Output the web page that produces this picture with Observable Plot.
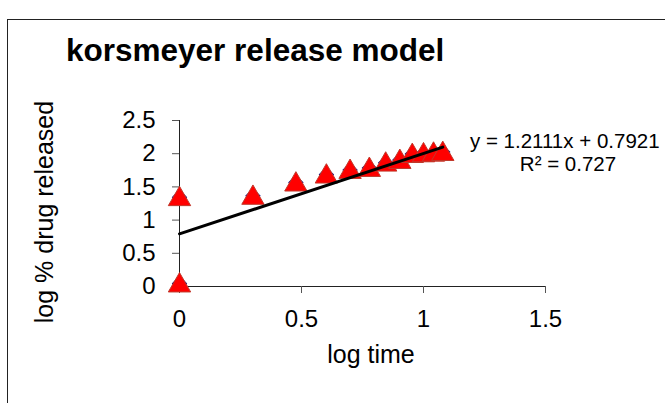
<!DOCTYPE html>
<html><head><meta charset="utf-8">
<script src="https://cdn.jsdelivr.net/npm/d3@7"></script>
<script src="https://cdn.jsdelivr.net/npm/@observablehq/plot@0.6"></script>
<style>
html,body{margin:0;padding:0;background:#fff;overflow:hidden}
#wrap{position:relative;width:665px;height:403px;overflow:hidden}
#wrap svg{position:absolute;left:0;top:0}
</style>
</head><body>
<div id="wrap"></div>
<script>
const logTime    = [0, 0, 0.301, 0.477, 0.602, 0.699, 0.778, 0.845, 0.903, 0.954, 1.0, 1.041, 1.079];
const logRelease = [1.30, 0, 1.32, 1.52, 1.64, 1.71, 1.74, 1.82, 1.86, 1.95, 1.96, 1.97, 1.98];
const slope = 1.2111, intercept = 0.7921, r2 = 0.727;
const xTicks = [0, 0.5, 1, 1.5], xTickLabels = ["0", "0.5", "1", "1.5"];
const yTicks = [0, 0.5, 1, 1.5, 2, 2.5], yTickLabels = ["0", "0.5", "1", "1.5", "2", "2.5"];
const titleText = "korsmeyer release model";
const xTitle = "log time", yTitle = "log % drug released";

const data = logTime.map((x, i) => ({x, y: logRelease[i]}));
const xMax = d3.max(logTime);
const trend = [{x: 0, y: intercept}, {x: xMax, y: slope * xMax + intercept}];
const FONT = "'Liberation Sans', Arial, sans-serif";

const svg = Plot.plot({
  width: 665, height: 403,
  marginLeft: 179, marginRight: 120, marginTop: 120, marginBottom: 117,
  style: {fontFamily: FONT, background: "transparent", color: "#000"},
  x: {domain: [0, 1.5]},
  y: {domain: [0, 2.5]},
  marks: [
    Plot.ruleY([0], {stroke: "#222", strokeWidth: 1}),
    Plot.ruleX([0], {stroke: "#222", strokeWidth: 1}),
    Plot.axisX({ticks: xTicks, tickFormat: d => xTickLabels[xTicks.indexOf(d)], tickSize: 7, tickPadding: 16,
                fontSize: 24, stroke: "#555", fill: "#000", label: null}),
    Plot.axisY({ticks: yTicks, tickFormat: d => yTickLabels[yTicks.indexOf(d)], tickSize: 7, tickPadding: 17,
                fontSize: 24, stroke: "#555", fill: "#000", label: null}),
    Plot.dot(data, {x: "x", y: "y", symbol: "diamond2", r: 6, dy: -3, fill: "#000080", stroke: "#000080"}),
    Plot.dot(data, {x: "x", y: "y", symbol: "triangle", r: 8.3, dy: -1, fill: "#ff0000", stroke: "#c0392b", strokeWidth: 1}),
    Plot.line(trend, {x: "x", y: "y", stroke: "#000", strokeWidth: 3})
  ]
});
document.getElementById("wrap").appendChild(svg);

const s = d3.select(svg);
s.append("rect").attr("x", 7.5).attr("y", 19.5).attr("width", 800).attr("height", 600)
  .attr("fill", "none").attr("stroke", "#222");
s.append("text").text(titleText).attr("x", 66).attr("y", 61).attr("text-anchor", "start")
  .attr("font-family", FONT).attr("font-weight", "bold").attr("font-size", 31.5).attr("fill", "#000");
s.append("text").text(xTitle).attr("x", 371).attr("y", 363).attr("text-anchor", "middle")
  .attr("font-family", FONT).attr("font-size", 25).attr("fill", "#000");
s.append("text").text(yTitle).attr("transform", "translate(53,212) rotate(-90)").attr("text-anchor", "middle")
  .attr("font-family", FONT).attr("font-size", 25).attr("fill", "#000");
s.append("text").text(`y = ${slope}x + ${intercept}`).attr("x", 470).attr("y", 148).attr("text-anchor", "start")
  .attr("font-family", FONT).attr("font-size", 20.5).attr("fill", "#000");
s.append("text").text(`R² = ${r2}`).attr("x", 568).attr("y", 171).attr("text-anchor", "middle")
  .attr("font-family", FONT).attr("font-size", 20.5).attr("fill", "#000");
</script>
</body></html>
